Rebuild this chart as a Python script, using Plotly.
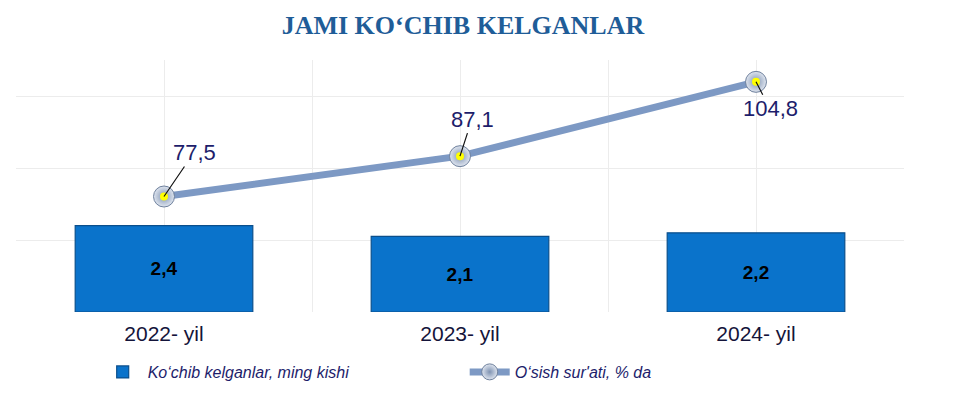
import plotly.graph_objects as go

categories = ["2022- yil", "2023- yil", "2024- yil"]
arrivals = [2.4, 2.1, 2.2]          # Ko'chib kelganlar, ming kishi
growth = [77.5, 87.1, 104.8]        # O'sish sur'ati, % da
growth_label_offsets = [(30, -44), (12, -37), (14, 27)]

bar_name = "Ko\u2018chib kelganlar, ming kishi"
line_name = "O\u2018sish sur'ati, % da"
title = "JAMI KO\u2018CHIB KELGANLAR"

xs = list(range(len(categories)))

fig = go.Figure()
fig.add_trace(go.Bar(
    x=xs, y=arrivals, name=bar_name, width=0.6,
    marker=dict(color="#0a73cb", line=dict(color="#0b4f8c", width=1.2)),
    texttemplate="<b>%{y:.1f}</b>", textposition="inside", insidetextanchor="middle",
    textfont=dict(family="Arial, Liberation Sans", size=19, color="black"),
    yaxis="y",
))
fig.add_trace(go.Scatter(
    x=xs, y=growth, name=line_name, mode="lines+markers", yaxis="y2",
    line=dict(color="#7d99c4", width=7),
    marker=dict(size=21, color="#dfe5ef",
                gradient=dict(type="radial", color="#7f93b2"),
                line=dict(color="#6f819d", width=1)),
))
fig.add_trace(go.Scatter(
    x=xs, y=growth, mode="markers", yaxis="y2", showlegend=False, hoverinfo="skip",
    marker=dict(size=8, color="#ffff00", line=dict(width=0)),
))

annotations = []
for x, v, (ax, ay) in zip(xs, growth, growth_label_offsets):
    annotations.append(dict(
        x=x, y=v, xref="x", yref="y2", text=f"{v:.1f}".replace(".", ","),
        showarrow=True, arrowhead=0, arrowwidth=1.2, arrowcolor="#111111",
        ax=ax, ay=ay, standoff=0,
        font=dict(family="Arial, Liberation Sans", size=22, color="#1d1d6b"),
    ))

grid_vals = [i * 0.5 - 0.5 for i in range(2 * len(categories) + 1)]
grid_text = [categories[int(v)] if float(v).is_integer() else "" for v in grid_vals]

fig.update_layout(
    width=978, height=394,
    margin=dict(l=16, r=74, t=60, b=82, autoexpand=False),
    paper_bgcolor="white", plot_bgcolor="white",
    separators=", ",
    title=dict(text=f"<b>{title}</b>", x=0.4734, xanchor="center", y=0.937, yanchor="middle",
               font=dict(family="Liberation Serif, Times New Roman", size=26, color="#1f5d98")),
    xaxis=dict(range=[-0.5, len(categories) - 0.5], tickvals=grid_vals, ticktext=grid_text,
               showgrid=True, gridcolor="#ececec", gridwidth=1, zeroline=False,
               showline=False, ticks="", automargin=False, ticklabelstandoff=7,
               tickfont=dict(family="Arial, Liberation Sans", size=21, color="#14143a")),
    yaxis=dict(range=[0, 7], dtick=2, showgrid=True, gridcolor="#ececec", gridwidth=1,
               zeroline=False, showticklabels=False, showline=False, automargin=False),
    yaxis2=dict(range=[50, 110], overlaying="y", side="right", showgrid=False,
                zeroline=False, showticklabels=False, showline=False, automargin=False),
    legend=dict(orientation="h", x=0.092, xanchor="left", y=-0.238, yanchor="middle",
                entrywidth=312, entrywidthmode="pixels", itemwidth=40,
                font=dict(family="Arial, Liberation Sans", size=16, color="#1d1d6b", style="italic")),
    annotations=annotations,
    showlegend=True,
)

fig.write_html("out.html", config={"displayModeBar": False},
               post_script="document.body.style.margin='0';")
